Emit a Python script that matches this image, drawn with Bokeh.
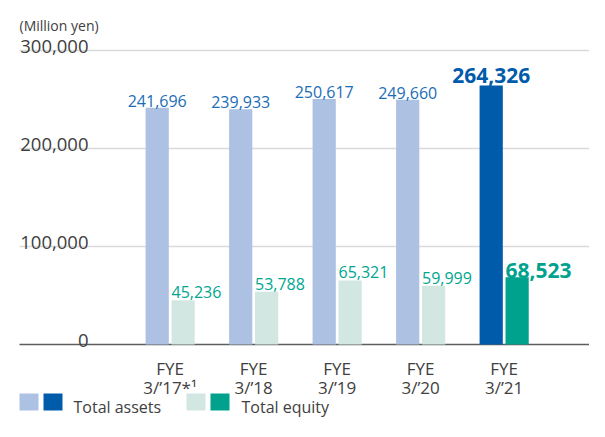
from bokeh.plotting import figure
from bokeh.models import ColumnDataSource, Range1d
from bokeh.transform import dodge
from bokeh.core.properties import value
from bokeh.embed import file_html
from bokeh.resources import INLINE

# ---------------- data ----------------
category_top = ["FYE", "FYE", "FYE", "FYE", "FYE"]
category_bottom = ["3/\u201917*\u00b9", "3/\u201918", "3/\u201919", "3/\u201920", "3/\u201921"]
total_assets = [241696, 239933, 250617, 249660, 264326]
total_equity = [45236, 53788, 65321, 59999, 68523]
y_ticks = [0, 100000, 200000, 300000]
y_tick_labels = ["0", "100,000", "200,000", "300,000"]
unit_label = "(Million yen)"
legend_labels = ["Total assets", "Total equity"]
highlight_index = 4

# ---------------- layout helpers ----------------
FONT = "Open Sans"
W, H = 589, 421
X_CENTER0, X_STEP = 169.6, 83.5
Y_ZERO, PX_PER_UNIT = 344.0, 98.0 / 100000


def px_to_x(px):
    return (px - X_CENTER0) / X_STEP


def py_to_y(py):
    return (Y_ZERO - py) / PX_PER_UNIT


ASSET_LIGHT, ASSET_DARK = "#adc1e2", "#005bab"
EQUITY_LIGHT, EQUITY_DARK = "#d3e7e2", "#00a28d"
ASSET_TEXT, EQUITY_TEXT = "#1b6db6", "#00a690"
GRAY_TEXT = "#404040"

p = figure(width=W, height=H, title=None,
           x_range=Range1d(px_to_x(0), px_to_x(W)),
           y_range=Range1d(py_to_y(H), py_to_y(0)),
           output_backend="svg", toolbar_location=None,
           x_axis_location=None, y_axis_location=None,
           min_border=0, outline_line_color=None)
p.grid.visible = False
p.background_fill_color = "white"
p.border_fill_color = "white"

# grid lines and baseline
grid_vals = [t for t in y_ticks if t != 0]
p.segment(x0=px_to_x(19), x1=px_to_x(620), y0=grid_vals, y1=grid_vals,
          line_color="#dadada", line_width=1.5)
p.segment(x0=[px_to_x(19)], x1=[px_to_x(620)], y0=[0], y1=[0],
          line_color="#5e5e5e", line_width=1.5)

# y tick labels
p.text(x=[px_to_x(88)] * len(y_ticks), y=y_ticks, text=y_tick_labels,
       text_align="right", text_baseline="alphabetic", y_offset=-4,
       text_font=value(FONT), text_font_size="18.5px", text_color=GRAY_TEXT)
p.text(x=[px_to_x(19)], y=[py_to_y(25)], text=[unit_label],
       text_align="left", text_baseline="alphabetic",
       text_font=value(FONT), text_font_size="14px", text_color=GRAY_TEXT)

# bars
n = len(total_assets)
src = ColumnDataSource(dict(
    x=list(range(n)),
    assets=total_assets,
    equity=total_equity,
    assets_color=[ASSET_DARK if i == highlight_index else ASSET_LIGHT for i in range(n)],
    equity_color=[EQUITY_DARK if i == highlight_index else EQUITY_LIGHT for i in range(n)],
    top_label=category_top,
    bottom_label=category_bottom,
))
BAR_W = 0.278
A_OFF, E_OFF = -0.1545, 0.156
p.vbar(x=dodge("x", A_OFF, range=p.x_range), top="assets", width=BAR_W,
       fill_color="assets_color", line_color=None, source=src)
p.vbar(x=dodge("x", E_OFF, range=p.x_range), top="equity", width=BAR_W,
       fill_color="equity_color", line_color=None, source=src)

# value labels
idx_norm = [i for i in range(n) if i != highlight_index]
norm = ColumnDataSource(dict(
    x=idx_norm,
    assets=[total_assets[i] for i in idx_norm],
    equity=[total_equity[i] for i in idx_norm],
    at=[f"{total_assets[i]:,}" for i in idx_norm],
    et=[f"{total_equity[i]:,}" for i in idx_norm],
))
hi = ColumnDataSource(dict(
    x=[highlight_index],
    assets=[total_assets[highlight_index]],
    equity=[total_equity[highlight_index]],
    at=[f"{total_assets[highlight_index]:,}"],
    et=[f"{total_equity[highlight_index]:,}"],
))
p.text(x=dodge("x", A_OFF, range=p.x_range), y="assets", text="at", source=norm,
       text_align="center", text_baseline="alphabetic", y_offset=-7,
       text_font=value(FONT), text_font_size="16px", text_color=ASSET_TEXT)
p.text(x=dodge("x", E_OFF - BAR_W / 2, range=p.x_range), y="equity", text="et", source=norm,
       text_align="left", text_baseline="alphabetic", y_offset=-8,
       text_font=value(FONT), text_font_size="16px", text_color=EQUITY_TEXT)
p.text(x=dodge("x", A_OFF, range=p.x_range), y="assets", text="at", source=hi,
       text_align="center", text_baseline="alphabetic", y_offset=-10,
       text_font=value(FONT), text_font_size="21px", text_font_style="bold",
       text_color=ASSET_DARK)
p.text(x=dodge("x", E_OFF - BAR_W / 2, range=p.x_range), y="equity", text="et", source=hi,
       text_align="left", text_baseline="alphabetic", y_offset=-7,
       text_font=value(FONT), text_font_size="21px", text_font_style="bold",
       text_color=EQUITY_DARK)

# category labels
p.text(x="x", y=py_to_y(368), text="top_label", source=src,
       text_align="center", text_baseline="alphabetic",
       text_font=value(FONT), text_font_size="17px", text_color=GRAY_TEXT)
p.text(x="x", y=py_to_y(387), text="bottom_label", source=src,
       text_align="center", text_baseline="alphabetic",
       text_font=value(FONT), text_font_size="17px", text_color=GRAY_TEXT)

# legend
sw_top, sw_bot = py_to_y(393), py_to_y(410)
swatches = [(19, ASSET_LIGHT), (43, ASSET_DARK), (186, EQUITY_LIGHT), (210, EQUITY_DARK)]
p.quad(left=[px_to_x(s[0]) for s in swatches], right=[px_to_x(s[0] + 19) for s in swatches],
       top=sw_top, bottom=sw_bot, fill_color=[s[1] for s in swatches], line_color=None)
p.text(x=[px_to_x(73), px_to_x(241)], y=py_to_y(406), text=legend_labels,
       text_align="left", text_baseline="alphabetic",
       text_font=value(FONT), text_font_size="16px", text_color=GRAY_TEXT)

open("out.html", "w").write(file_html(p, INLINE))
